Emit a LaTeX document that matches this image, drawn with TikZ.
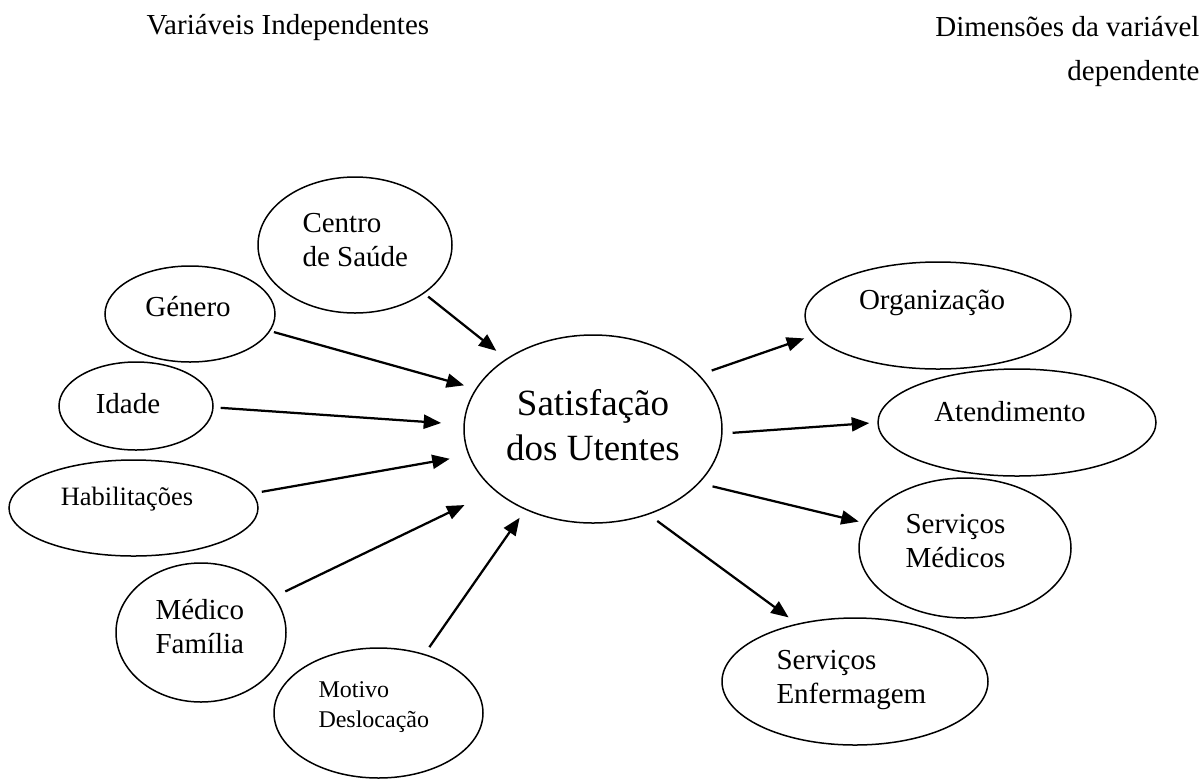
\documentclass[tikz,border=0pt]{standalone}
\usepackage{fontspec}
\setmainfont{Liberation Serif}
\usetikzlibrary{shapes.geometric,arrows.meta}
\tikzset{
  oval/.style={draw, ellipse, line width=0.6pt, inner sep=0pt},
  lbl/.style={inner sep=0pt, font=\fontsize{11.6}{13.6}\selectfont},
  lblsmall/.style={inner sep=0pt, font=\fontsize{10.6}{12.6}\selectfont},
  lbltiny/.style={inner sep=0pt, font=\fontsize{9.6}{12}\selectfont},
  lblbig/.style={inner sep=0pt, font=\fontsize{14.8}{18}\selectfont},
  arr/.style={line width=0.9pt, -{Triangle[length=7pt,width=5.6pt]}}
}
\begin{document}
\begin{tikzpicture}[x=0.4pt,y=-0.4pt]
\useasboundingbox (0,0) rectangle (1201,782);
% headers
\node[lbl, anchor=west] (h1) at (146,27) {Variáveis Independentes};
\node[lbl, anchor=east] (h2) at (1200,27) {Dimensões da variável};
\node[lbl, anchor=east] (h3) at (1200,74) {dependente};
% ellipses
\node[oval, minimum width=194*0.4pt, minimum height=136*0.4pt] (cs) at (355,245) {};
\node[oval, minimum width=170*0.4pt, minimum height=96*0.4pt] (gen) at (190,314) {};
\node[oval, minimum width=154*0.4pt, minimum height=88*0.4pt] (ida) at (136,406) {};
\node[oval, minimum width=249*0.4pt, minimum height=96*0.4pt] (hab) at (133.5,508) {};
\node[oval, minimum width=170*0.4pt, minimum height=139*0.4pt] (med) at (201,632.5) {};
\node[oval, minimum width=209*0.4pt, minimum height=130*0.4pt] (mot) at (378.5,713) {};
\node[oval, minimum width=258*0.4pt, minimum height=188*0.4pt] (sat) at (593,429) {};
\node[oval, minimum width=266*0.4pt, minimum height=107*0.4pt] (org) at (938,315.5) {};
\node[oval, minimum width=278*0.4pt, minimum height=107*0.4pt] (ate) at (1017,422.5) {};
\node[oval, minimum width=212*0.4pt, minimum height=140*0.4pt] (smed) at (965,548) {};
\node[oval, minimum width=266*0.4pt, minimum height=127*0.4pt] (enf) at (855,681.5) {};
% labels
\node[lbl, anchor=west, align=left] (tcs) at (302,240) {Centro\\de Saúde};
\node[lbl] (tgen) at (188,307) {Género};
\node[lbl] (tida) at (128,404) {Idade};
\node[lblsmall] (thab) at (127,499) {Habilitações};
\node[lbl, anchor=west, align=left] (tmed) at (155,627) {Médico\\Família};
\node[lbltiny, anchor=west, align=left] (tmot) at (318,707) {Motivo\\Deslocação};
\node[lblbig, align=center] (tsat) at (593,425) {Satisfação\\dos Utentes};
\node[lbl] (torg) at (932,303) {Organização};
\node[lbl] (tate) at (1010,412) {Atendimento};
\node[lbl, anchor=west, align=left] (tsmed) at (905,541.5) {Serviços\\Médicos};
\node[lbl, anchor=west, align=left] (tenf) at (776,680) {Serviços\\Enfermagem};
% arrows
\draw[arr, shorten <=2pt, shorten >=5pt] (cs.-35.5) -- (sat.141.6);
\draw[arr, shorten <=1.5pt, shorten >=4.8pt] (gen.-12.2) -- (sat.161);
\draw[arr, shorten <=2.8pt, shorten >=8.9pt] (ida.-1.4) -- (sat.178.1);
\draw[arr, shorten <=3.6pt, shorten >=7.6pt] (hab.7.65) -- (sat.192.7);
\draw[arr, shorten <=4.7pt, shorten >=13.3pt] (med.26.6) -- (sat.212.1);
\draw[arr, shorten <=3.3pt, shorten >=3.9pt] (mot.52.2) -- (sat.230.3);
\draw[arr, shorten <=5.2pt, shorten >=3.9pt] (sat.27.15) -- (org.189.2);
\draw[arr, shorten <=4pt, shorten >=3.2pt] (sat.-2.5) -- (ate.180);
\draw[arr, shorten <=5.4pt, shorten >=2.6pt] (sat.-27.5) -- (smed.166.7);
\draw[arr, shorten <=4.3pt, shorten >=4.2pt] (sat.-57) -- (enf.135.2);
\end{tikzpicture}
\end{document}
